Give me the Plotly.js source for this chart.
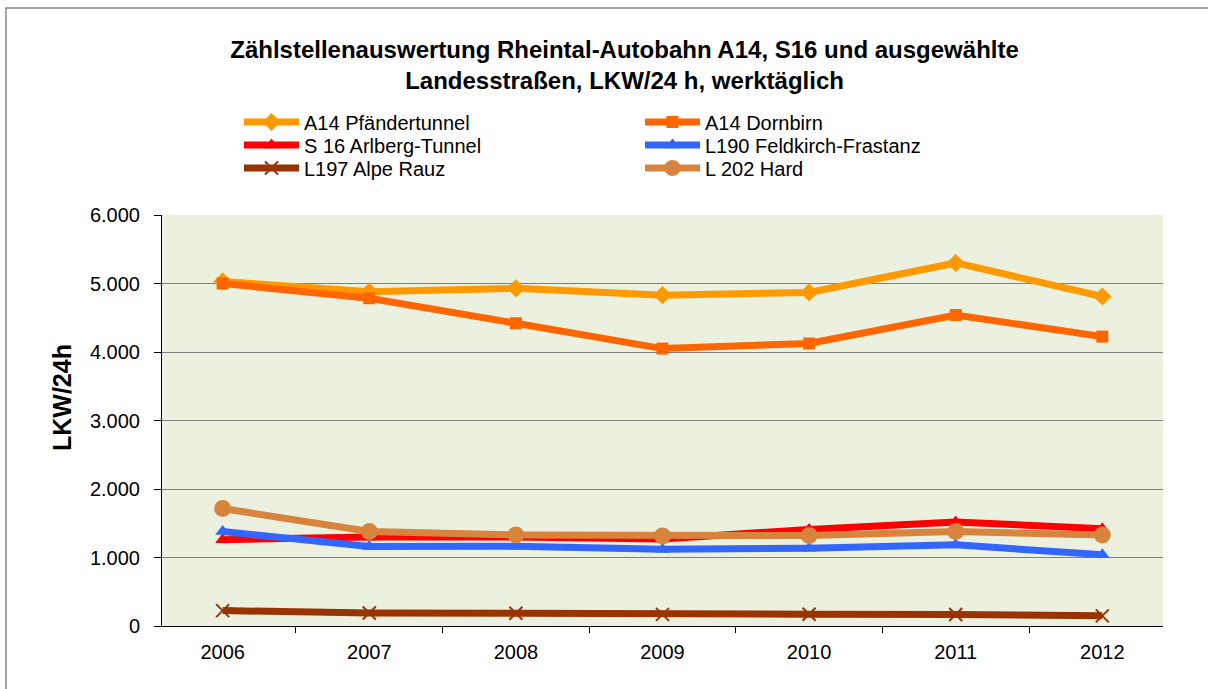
<!DOCTYPE html>
<html><head><meta charset="utf-8">
<script src="https://cdn.plot.ly/plotly-3.0.1.min.js"></script>
<style>html,body{margin:0;padding:0;background:#fff}#chart{width:1208px;height:689px}</style>
</head><body><div id="chart"></div>
<script>
const years = ['2006','2007','2008','2009','2010','2011','2012'];
const a14Pfaender = [5030, 4880, 4930, 4830, 4870, 5300, 4810];
const a14Dornbirn = [5000, 4785, 4420, 4050, 4125, 4540, 4225];
const s16Arlberg = [1260, 1300, 1300, 1270, 1410, 1520, 1420];
const l190Feldkirch = [1380, 1160, 1165, 1120, 1135, 1185, 1040];
const l197Alpe = [225, 190, 185, 170, 172, 168, 148];
const l202Hard = [1715, 1380, 1330, 1315, 1320, 1380, 1330];
const names = ['A14 Pfändertunnel','A14 Dornbirn','S 16 Arlberg-Tunnel','L190 Feldkirch-Frastanz','L197 Alpe Rauz','L 202 Hard'];
const series = [a14Pfaender, a14Dornbirn, s16Arlberg, l190Feldkirch, l197Alpe, l202Hard];
const colors = ['#FF9900','#FF6600','#FF0000','#3366FF','#993300','#D9843C'];
const symbols = ['diamond','square','triangle-up','triangle-up','x-thin-open','circle'];
const sizes = [14,12,13,13,13,17];
const legendIds = ['legend','legend','legend2','legend2','legend3','legend3'];

const traces = series.map((s,i)=>({
  type:'scatter', mode:'lines+markers', x:years, y:s, name:names[i], legend:legendIds[i],
  line:{color:colors[i], width:7},
  marker:{symbol:symbols[i], size:sizes[i], color:colors[i], line:{color:colors[i], width: symbols[i]==='x-thin-open'?2:0}}
}));

const FONT = '"Liberation Sans", Arial, sans-serif';
const PT = 626, PH = 411, PL = 162, PW = 1001;
function legendAt(rowY){
  return {orientation:'h', x:(239-PL)/PW, xanchor:'left', y:(PT-rowY)/PH, yanchor:'middle', entrywidth:331, entrywidthmode:'pixels', font:{family:FONT, size:20}, itemwidth:55, traceorder:'normal', bgcolor:'rgba(0,0,0,0)'};
}
const layout = {
  width:1208, height:689,
  margin:{l:162, r:45, t:215, b:63},
  paper_bgcolor:'#ffffff', plot_bgcolor:'#EBF0DF',
  separators:',.',
  font:{family:FONT, size:20, color:'#000'},
  title:{text:'<b>Zählstellenauswertung Rheintal-Autobahn A14, S16 und ausgewählte<br>Landesstraßen, LKW/24 h, werktäglich</b>', x:0.517, xanchor:'center', y:0.916, yanchor:'middle', font:{family:FONT, size:24, color:'#000'}},
  showlegend:true,
  legend:legendAt(122),
  legend2:legendAt(145),
  legend3:legendAt(168),
  xaxis:{type:'category', showgrid:false, showline:true, linecolor:'#000', linewidth:1, ticks:'outside', tickson:'boundaries', ticklen:6, tickcolor:'#000', tickfont:{size:20}, ticklabelstandoff:8},
  yaxis:{range:[0,6000], dtick:1000, tickformat:',d', showgrid:true, gridcolor:'#808080', gridwidth:1, showline:true, linecolor:'#000', linewidth:1, ticks:'outside', ticklen:7, tickcolor:'#000', tickfont:{size:20}, zeroline:false, ticklabelstandoff:10},
  annotations:[{text:'<b>LKW/24h</b>', xref:'paper', yref:'paper', x:(62-PL)/PW, y:(PT-398)/PH, xanchor:'center', yanchor:'middle', textangle:-90, showarrow:false, font:{family:FONT, size:25, color:'#000'}}],
  shapes:[{type:'rect', xref:'paper', yref:'paper', x0:(6-PL)/PW, x1:(1215-PL)/PW, y0:-0.2, y1:(PT-8)/PH, line:{color:'#888', width:1.5}, fillcolor:'rgba(0,0,0,0)', layer:'below'}]
};
Plotly.newPlot('chart', traces, layout, {displayModeBar:false, staticPlot:true});
</script></body></html>
